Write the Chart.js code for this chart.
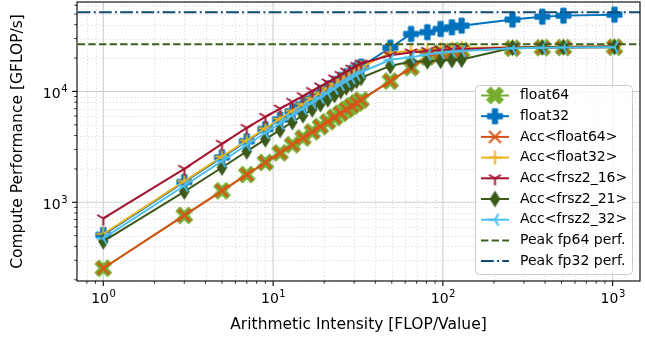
<!DOCTYPE html>
<html>
<head>
<meta charset="utf-8">
<script src="https://cdn.jsdelivr.net/npm/chart.js@4/dist/chart.umd.min.js"></script>
<style>
  html, body { margin: 0; padding: 0; background: #fff; }
  #wrap { width: 645px; height: 337px; }
</style>
</head>
<body>
<div id="wrap"><canvas id="roofline" width="645" height="337"></canvas></div>
<script>
// arithmetic intensity sweep (FLOP per value)
var intensity = [1, 3, 5, 7, 9, 11, 13, 15, 17, 19, 21, 23, 25, 27, 29, 31, 33,
                 49, 65, 81, 97, 113, 129, 257, 385, 513, 1025];

// measured GFLOP/s
var float64 = [254, 762, 1270, 1778, 2286, 2794, 3302, 3810, 4318, 4826, 5334, 5842, 6350, 6858, 7366, 7874, 8382,
               12400, 16400, 20500, 22300, 23000, 23400, 24500, 24800, 24900, 25100];
var float32 = [508, 1524, 2540, 3556, 4572, 5588, 6604, 7620, 8636, 9652, 10668, 11684, 12700, 13716, 14732, 15748, 16764,
               24800, 33000, 34200, 36600, 37900, 39200, 44500, 47300, 48300, 49300];
var accFloat64 = [254, 762, 1270, 1778, 2286, 2794, 3302, 3810, 4318, 4826, 5334, 5842, 6350, 6858, 7366, 7874, 8382,
                  12400, 16400, 20500, 22300, 23000, 23400, 24500, 24800, 24900, 25100];
var accFloat32 = [518, 1555, 2590, 3620, 4650, 5680, 6700, 7720, 8740, 9750, 10750, 11750, 12750, 13700, 14650, 15600, 16500,
                  22300, 23200, 23800, 24200, 24500, 24700, 25100, 25300, 25400, 25500];
var accFrsz16 = [716, 2000, 3370, 4690, 5900, 7000, 8060, 9070, 10100, 11100, 12050, 13100, 14100, 15100, 16060, 17000, 17900,
                 21200, 22500, 23200, 23700, 24000, 24200, 24900, 25100, 25200, 25400];
var accFrsz21 = [445, 1250, 2060, 2880, 3700, 4500, 5300, 6100, 6900, 7700, 8500, 9300, 10100, 10900, 11700, 12500, 13300,
                 17000, 18600, 18700, 19000, 19200, 19400, 24800, 25000, 25100, 25300];
var accFrsz32 = [473, 1410, 2350, 3290, 4220, 5150, 6070, 6990, 7900, 8800, 9700, 10600, 11500, 12350, 13200, 14050, 14900,
                 19300, 20300, 21500, 22300, 22800, 23200, 24500, 24800, 24900, 25100];

var peakFp64 = 26600;
var peakFp32 = 51800;

var xRange = [0.7071, 1449];
var yRange = [195, 64100];

var FONT = '"DejaVu Sans", sans-serif';

// matplotlib-ish marker glyphs as small canvases
function marker(kind, color) {
  var c = document.createElement('canvas');
  c.width = 23; c.height = 23;
  var g = c.getContext('2d');
  g.translate(11.5, 11.5);
  g.fillStyle = color;
  g.strokeStyle = color;
  g.lineWidth = 2;
  g.lineCap = 'butt';
  function plus(L, w) {
    g.beginPath();
    g.moveTo(-w, -L); g.lineTo(w, -L); g.lineTo(w, -w); g.lineTo(L, -w);
    g.lineTo(L, w); g.lineTo(w, w); g.lineTo(w, L); g.lineTo(-w, L);
    g.lineTo(-w, w); g.lineTo(-L, w); g.lineTo(-L, -w); g.lineTo(-w, -w);
    g.closePath();
    g.fill();
    g.lineWidth = 1;
    g.stroke();
  }
  function spokes(pts) {
    g.beginPath();
    pts.forEach(function (p) { g.moveTo(0, 0); g.lineTo(p[0], p[1]); });
    g.stroke();
  }
  if (kind === 'P') {
    plus(7.5, 2.6);
  } else if (kind === 'X') {
    g.rotate(Math.PI / 4);
    plus(8.8, 2.9);
  } else if (kind === 'x') {
    spokes([[-6, -6], [6, 6], [-6, 6], [6, -6]]);
  } else if (kind === '+') {
    spokes([[0, -7], [0, 7], [-7, 0], [7, 0]]);
  } else if (kind === 'tri_down') {
    spokes([[0, 7], [-6, -3.5], [6, -3.5]]);
  } else if (kind === 'tri_left') {
    spokes([[-7, 0], [3.5, -6], [3.5, 6]]);
  } else if (kind === 'd') {
    g.beginPath();
    g.moveTo(0, -8.5); g.lineTo(5.3, 0); g.lineTo(0, 8.5); g.lineTo(-5.3, 0);
    g.closePath();
    g.fill();
  }
  return c;
}

function pts(values) {
  return intensity.map(function (x, i) { return { x: x, y: values[i] }; });
}

function series(label, values, color, kind) {
  return {
    label: label,
    data: pts(values),
    borderColor: color,
    backgroundColor: color,
    borderWidth: 2,
    pointStyle: marker(kind, color),
    pointRadius: 6,
    tension: 0
  };
}

function hline(label, y, color, dash) {
  return {
    label: label,
    data: [{ x: xRange[0], y: y }, { x: xRange[1], y: y }],
    borderColor: color,
    borderWidth: 2,
    borderDash: dash,
    pointRadius: 0,
    tension: 0
  };
}

var datasets = [
  series('float64', float64, '#77AC30', 'X'),
  series('float32', float32, '#0072BD', 'P'),
  series('Acc<float64>', accFloat64, '#D95319', 'x'),
  series('Acc<float32>', accFloat32, '#EDB120', '+'),
  series('Acc<frsz2_16>', accFrsz16, '#A2142F', 'tri_down'),
  series('Acc<frsz2_21>', accFrsz21, '#3B5A1A', 'd'),
  series('Acc<frsz2_32>', accFrsz32, '#4DBEEE', 'tri_left'),
  hline('Peak fp64 perf.', peakFp64, '#3F5F1F', [7.4, 3.2]),
  hline('Peak fp32 perf.', peakFp32, '#0F4C75', [12.8, 3.2, 2, 3.2])
];
// later series drawn on top
datasets.forEach(function (d, i) { d.order = datasets.length - i; });

function decadeTicks(lo, hi) {
  var out = [];
  for (var e = Math.floor(Math.log10(lo)); e <= Math.ceil(Math.log10(hi)); e++) {
    for (var m = 1; m <= 9; m++) {
      var v = m * Math.pow(10, e);
      if (v >= lo && v <= hi) out.push({ v: v, major: m === 1, e: e });
    }
  }
  return out;
}

function powerLabel(g, x, y, e, align) {
  var base = '10', sup = String(e);
  g.font = '14px ' + FONT;
  var wb = g.measureText(base).width;
  g.font = '10px ' + FONT;
  var ws = g.measureText(sup).width;
  var left = align === 'center' ? x - (wb + ws) / 2 : x - (wb + ws);
  g.textAlign = 'left';
  g.textBaseline = 'alphabetic';
  g.font = '14px ' + FONT;
  g.fillText(base, left, y);
  g.font = '10px ' + FONT;
  g.fillText(sup, left + wb + 0.5, y - 6);
}

var axesDecor = {
  id: 'axesDecor',
  beforeDatasetsDraw: function (chart) {
    var g = chart.ctx, a = chart.chartArea;
    var sx = chart.scales.x, sy = chart.scales.y;
    var xt = decadeTicks(xRange[0], xRange[1]);
    var yt = decadeTicks(yRange[0], yRange[1]);
    g.save();
    g.beginPath();
    g.rect(a.left, a.top, a.right - a.left, a.bottom - a.top);
    g.clip();
    // minor grid, dotted
    g.strokeStyle = '#d6d6d6';
    g.lineWidth = 1;
    g.setLineDash([1, 2.6]);
    xt.forEach(function (t) {
      if (t.major) return;
      var px = Math.round(sx.getPixelForValue(t.v)) + 0.5;
      g.beginPath(); g.moveTo(px, a.top); g.lineTo(px, a.bottom); g.stroke();
    });
    yt.forEach(function (t) {
      if (t.major) return;
      var py = Math.round(sy.getPixelForValue(t.v)) + 0.5;
      g.beginPath(); g.moveTo(a.left, py); g.lineTo(a.right, py); g.stroke();
    });
    // major grid
    g.setLineDash([]);
    g.strokeStyle = '#cfcfcf';
    g.lineWidth = 1.1;
    xt.forEach(function (t) {
      if (!t.major) return;
      var px = sx.getPixelForValue(t.v);
      g.beginPath(); g.moveTo(px, a.top); g.lineTo(px, a.bottom); g.stroke();
    });
    yt.forEach(function (t) {
      if (!t.major) return;
      var py = sy.getPixelForValue(t.v);
      g.beginPath(); g.moveTo(a.left, py); g.lineTo(a.right, py); g.stroke();
    });
    g.restore();
  },
  afterDraw: function (chart) {
    var g = chart.ctx, a = chart.chartArea;
    var sx = chart.scales.x, sy = chart.scales.y;
    g.save();
    // frame
    g.strokeStyle = '#000';
    g.lineWidth = 1.1;
    g.strokeRect(a.left, a.top, a.right - a.left, a.bottom - a.top);
    // tick marks and labels
    g.fillStyle = '#000';
    decadeTicks(xRange[0], xRange[1]).forEach(function (t) {
      var px = sx.getPixelForValue(t.v);
      g.lineWidth = t.major ? 1.1 : 0.8;
      g.beginPath(); g.moveTo(px, a.bottom); g.lineTo(px, a.bottom + (t.major ? 4.9 : 2.8)); g.stroke();
      if (t.major) powerLabel(g, px, a.bottom + 22, t.e, 'center');
    });
    decadeTicks(yRange[0], yRange[1]).forEach(function (t) {
      var py = sy.getPixelForValue(t.v);
      g.lineWidth = t.major ? 1.1 : 0.8;
      g.beginPath(); g.moveTo(a.left, py); g.lineTo(a.left - (t.major ? 4.9 : 2.8), py); g.stroke();
      if (t.major) powerLabel(g, a.left - 10, py + 7, t.e, 'right');
    });
    // axis titles
    g.font = '15.5px ' + FONT;
    g.textAlign = 'center';
    g.textBaseline = 'middle';
    g.fillText('Arithmetic Intensity [FLOP/Value]', (a.left + a.right) / 2, 325);
    g.save();
    g.translate(18, (a.top + a.bottom) / 2);
    g.rotate(-Math.PI / 2);
    g.fillText('Compute Performance [GFLOP/s]', 0, 0);
    g.restore();

    // legend
    var lx = 475, ly = 85, lw = 157, lh = 189;
    g.beginPath();
    g.roundRect(lx + 0.5, ly + 0.5, lw, lh, 4);
    g.fillStyle = 'rgba(255,255,255,0.8)';
    g.fill();
    g.strokeStyle = '#cccccc';
    g.lineWidth = 1;
    g.stroke();
    chart.data.datasets.forEach(function (d, i) {
      var ry = 95.5 + i * 20.7;
      g.strokeStyle = d.borderColor;
      g.lineWidth = d.borderWidth;
      g.setLineDash(d.borderDash || []);
      g.beginPath(); g.moveTo(481, ry); g.lineTo(509, ry); g.stroke();
      g.setLineDash([]);
      if (d.pointRadius > 0) {
        g.drawImage(d.pointStyle, 495 - 11.5, ry - 11.5);
      }
      g.fillStyle = '#000';
      g.font = '14px ' + FONT;
      g.textAlign = 'left';
      g.textBaseline = 'middle';
      g.fillText(d.label, 520, ry);
    });
    g.restore();
  }
};

new Chart(document.getElementById('roofline'), {
  type: 'line',
  data: { datasets: datasets },
  options: {
    responsive: false,
    animation: false,
    layout: { autoPadding: false, padding: { left: 77, top: 2, right: 5, bottom: 56 } },
    plugins: { legend: { display: false }, tooltip: { enabled: false } },
    scales: {
      x: { type: 'logarithmic', min: xRange[0], max: xRange[1], display: false },
      y: { type: 'logarithmic', min: yRange[0], max: yRange[1], display: false }
    }
  },
  plugins: [axesDecor]
});
</script>
</body>
</html>
